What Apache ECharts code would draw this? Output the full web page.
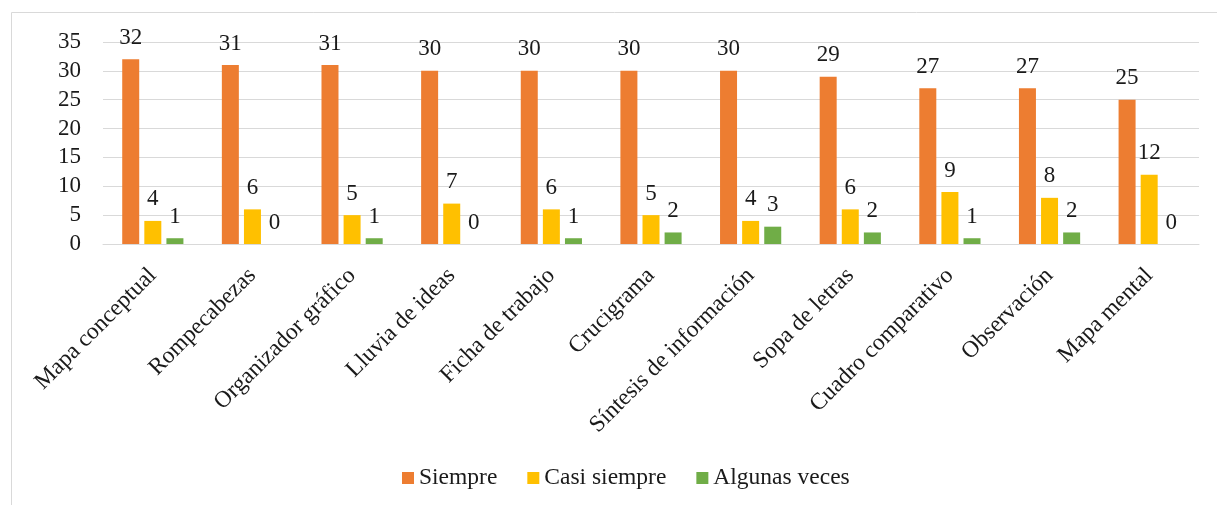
<!DOCTYPE html>
<html><head><meta charset="utf-8">
<script src="https://cdn.jsdelivr.net/npm/echarts@6/dist/echarts.min.js"></script>
<style>html,body{margin:0;padding:0;background:#fff}#c{width:1217px;height:505px}</style>
</head><body><div id="c"></div>
<script>
const categories = ["Mapa conceptual","Rompecabezas","Organizador gráfico","Lluvia de ideas","Ficha de trabajo","Crucigrama","Síntesis de información","Sopa de letras","Cuadro comparativo","Observación","Mapa mental"];
const siempre = [32,31,31,30,30,30,30,29,27,27,25];
const casiSiempre = [4,6,5,7,6,5,4,6,9,8,12];
const algunasVeces = [1,0,1,0,1,2,3,2,1,2,0];
const seriesNames = ["Siempre","Casi siempre","Algunas veces"];
const colors = ["#ED7D31","#FFC000","#70AD47"];
const font = "Liberation Serif";
const txt = '#1a1a1a';
const chart = echarts.init(document.getElementById('c'));
const lbl = {show:true, position:'top', distance:10, color:txt, fontFamily:font, fontSize:23};
chart.setOption({
  animation:false,
  graphic:[{type:'rect', shape:{x:11.5,y:12.5,width:1230,height:520}, style:{fill:'none', stroke:'#d9d9d9', lineWidth:1}}],
  grid:{left:103, right:18, top:42, bottom:261},
  legend:{bottom:10, left:397, itemWidth:12, itemHeight:12, itemGap:30, icon:'rect',
    textStyle:{fontFamily:font, fontSize:23.5, color:txt}, data:seriesNames},
  xAxis:{type:'category', data:categories,
    axisLine:{lineStyle:{color:'#d9d9d9'}}, axisTick:{show:false},
    axisLabel:{rotate:45, interval:0, margin:28, fontFamily:font, fontSize:23.5, color:txt}},
  yAxis:{type:'value', min:0, max:35, interval:5,
    axisLine:{show:false}, axisTick:{show:false},
    splitLine:{lineStyle:{color:'#d9d9d9'}},
    axisLabel:{margin:22, fontFamily:font, fontSize:23, color:txt}},
  series:[
    {name:seriesNames[0], type:'bar', data:siempre, barWidth:17, barGap:'30%', itemStyle:{color:colors[0]}, label:lbl},
    {name:seriesNames[1], type:'bar', data:casiSiempre, barWidth:17, barGap:'30%', itemStyle:{color:colors[1]}, label:lbl},
    {name:seriesNames[2], type:'bar', data:algunasVeces, barWidth:17, barGap:'30%', itemStyle:{color:colors[2]}, label:lbl}
  ]
});
</script></body></html>
